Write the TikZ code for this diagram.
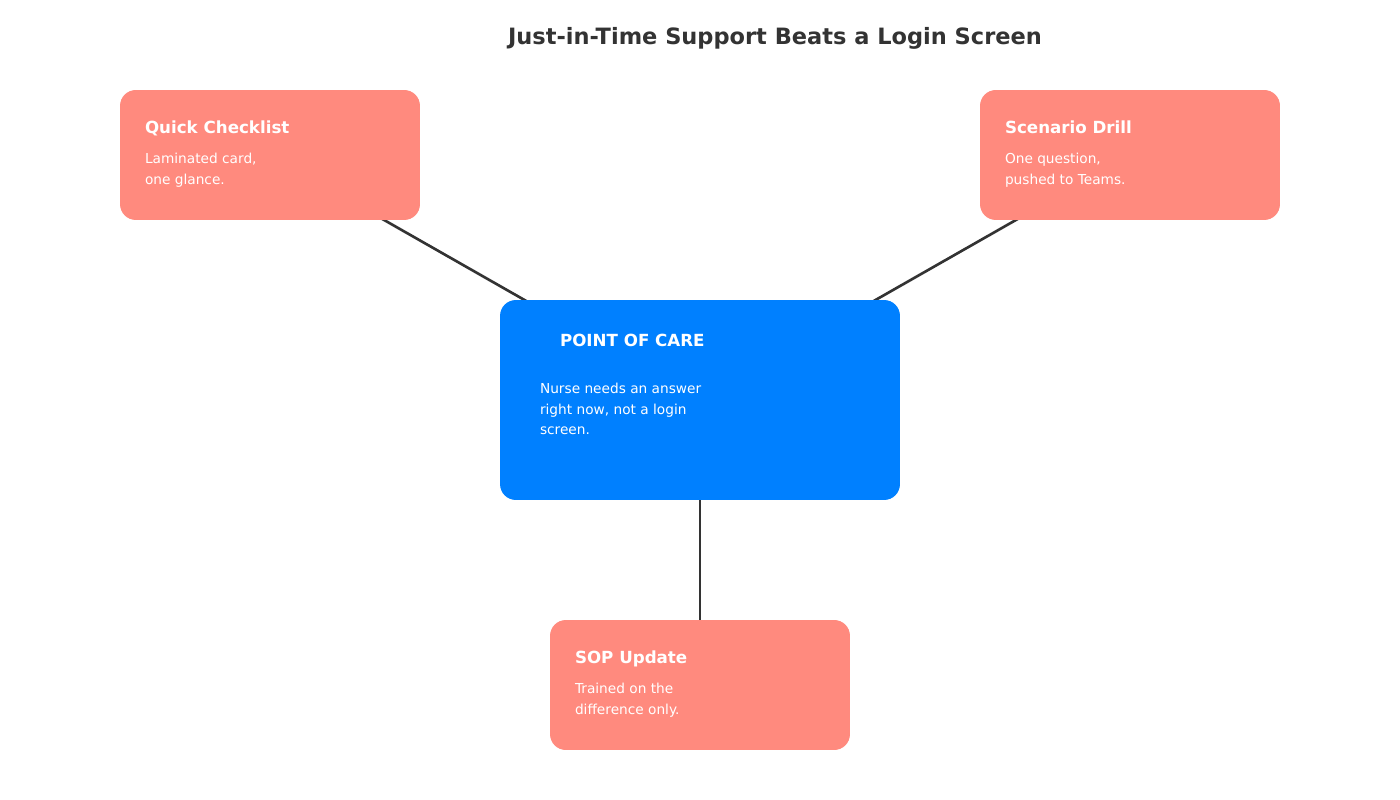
\documentclass[tikz,border=0pt]{standalone}
\usepackage{fontspec}
\setmainfont{DejaVu Sans}
\usetikzlibrary{positioning}
\definecolor{salmon}{HTML}{FF8A7E}
\definecolor{careblue}{HTML}{0080FF}
\definecolor{darktext}{HTML}{333333}

\begin{document}
\begin{tikzpicture}[
    x=0.02cm, y=-0.02cm,
    card/.style={rectangle, rounded corners=9pt, fill=salmon, minimum width=6cm, minimum height=2.6cm},
    hub/.style={rectangle, rounded corners=9pt, fill=careblue, minimum width=8cm, minimum height=4cm},
    head/.style={anchor=north west, inner sep=0pt, text=white, font=\fontsize{9.5}{11}\selectfont\bfseries},
    body/.style={anchor=north west, inner sep=0pt, text=white, align=left, font=\fontsize{7.8}{11.8}\selectfont},
    link/.style={draw=darktext, line width=1.5pt},
]
\useasboundingbox (0,0) rectangle (1400,800);

% Title
\node[text=darktext, font=\fontsize{12.8}{15}\selectfont\bfseries] (title) at (775,38) {Just-in-Time Support Beats a Login Screen};

% Connectors (behind the boxes)
\coordinate (mid) at (700,400);
\coordinate (checkc) at (270,155);
\coordinate (drillc) at (1130,155);
\coordinate (sopc) at (700,685);
\draw[link] (checkc) -- (mid);
\draw[link] (drillc) -- (mid);
\draw[link] (sopc) -- (mid);

% Boxes
\node[card] (check) at (checkc) {};
\node[card] (drill) at (drillc) {};
\node[card] (sop) at (sopc) {};
\node[hub] (care) at (mid) {};

% Texts
\node[head, xshift=0.5cm, yshift=-0.62cm] (checkhead) at (check.north west) {Quick Checklist};
\node[body, xshift=0.5cm, yshift=-1.26cm] (checkbody) at (check.north west) {Laminated card,\\one glance.};
\node[head, xshift=0.5cm, yshift=-0.62cm] (drillhead) at (drill.north west) {Scenario Drill};
\node[body, xshift=0.5cm, yshift=-1.26cm] (drillbody) at (drill.north west) {One question,\\pushed to Teams.};
\node[head, xshift=0.5cm, yshift=-0.62cm] (sophead) at (sop.north west) {SOP Update};
\node[body, xshift=0.5cm, yshift=-1.26cm] (sopbody) at (sop.north west) {Trained on the\\difference only.};
\node[head, xshift=1.2cm, yshift=-0.68cm] (carehead) at (care.north west) {POINT OF CARE};
\node[body, xshift=0.8cm, yshift=-1.66cm] (carebody) at (care.north west) {Nurse needs an answer\\right now, not a login\\screen.};
\end{tikzpicture}
\end{document}
